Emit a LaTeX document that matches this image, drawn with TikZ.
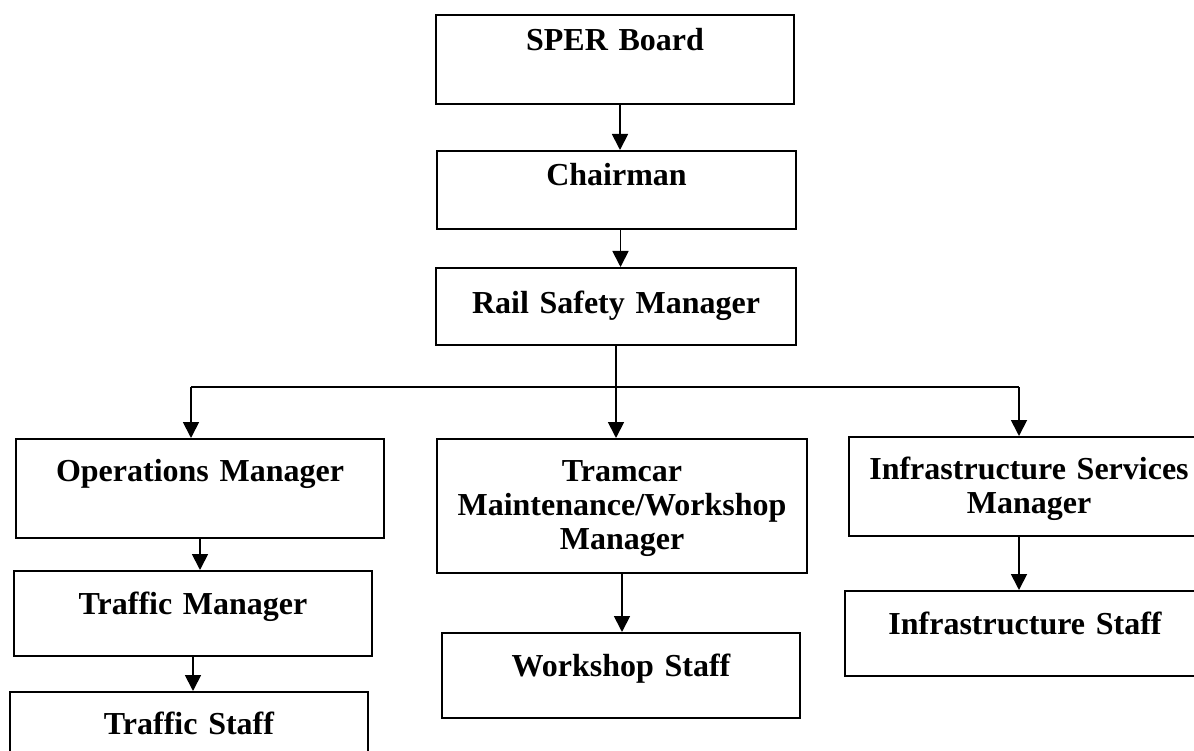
\documentclass[tikz,border=0pt]{standalone}
\usepackage{fontspec}
\setmainfont{Liberation Serif}
\usetikzlibrary{arrows.meta}
\begin{document}
\begin{tikzpicture}[x=1pt, y=-1pt,
 box/.style={draw, line width=2pt, anchor=north west, inner sep=0pt, align=center, font=\fontsize{32}{34}\selectfont\bfseries},
 arr/.style={-{Triangle[length=16pt,width=16pt]}, line width=1.8pt}]
\useasboundingbox[fill=white] (0,0) rectangle (1194,751);

\node[box, text width=358pt, text height=36pt, text depth=53pt] at (435,14)(sper) {SPER Board};
\node[box, text width=359pt, text height=35pt, text depth=43pt] at (436,150)(chair) {Chairman};
\node[box, text width=360pt, text height=45pt, text depth=32pt] at (435,267)(rsm) {Rail Safety Manager};

\node[box, text width=368pt, text height=42pt, text depth=57pt] at (15,438)(ops) {Operations Manager};
\node[box, text width=370pt, text height=42pt, text depth=92pt] at (436,438)(tram) {Tramcar\\Maintenance/Workshop\\Manager};
\node[box, text width=360pt, text height=42pt, text depth=57pt] at (848,436)(infra) {Infrastructure Services\\Manager};

\node[box, text width=358pt, text height=43pt, text depth=42pt] at (13,570)(traffic) {Traffic Manager};
\node[box, text width=358pt, text height=42pt, text depth=60pt] at (9,691)(tstaff) {Traffic Staff};
\node[box, text width=358pt, text height=43pt, text depth=42pt] at (441,632)(shop) {Workshop Staff};
\node[box, text width=360pt, text height=43pt, text depth=42pt] at (844,590)(istaff) {Infrastructure Staff};

\coordinate (busL) at (191,387);
\coordinate (busR) at (1019,387);

\draw[arr] ([xshift=5pt]sper.south) -- ([xshift=5pt]sper.south |- chair.north);
\draw[arr] ([xshift=4pt]chair.south) -- ([xshift=4pt]chair.south |- rsm.north);
\draw[line width=1.8pt] (rsm.south) -- (rsm.south |- busL);
\draw[line width=1.8pt] (busL) -- (busR);
\draw[arr] (busL) -- (busL |- ops.north);
\draw[arr] (rsm.south |- busL) -- (rsm.south |- tram.north);
\draw[arr] (busR) -- (busR |- infra.north);

\draw[arr] (ops.south) -- (ops.south |- traffic.north);
\draw[arr] (traffic.south) -- (traffic.south |- tstaff.north);
\draw[arr] (tram.south) -- (tram.south |- shop.north);
\draw[arr] (busR |- infra.south) -- (busR |- istaff.north);

\end{tikzpicture}
\end{document}
